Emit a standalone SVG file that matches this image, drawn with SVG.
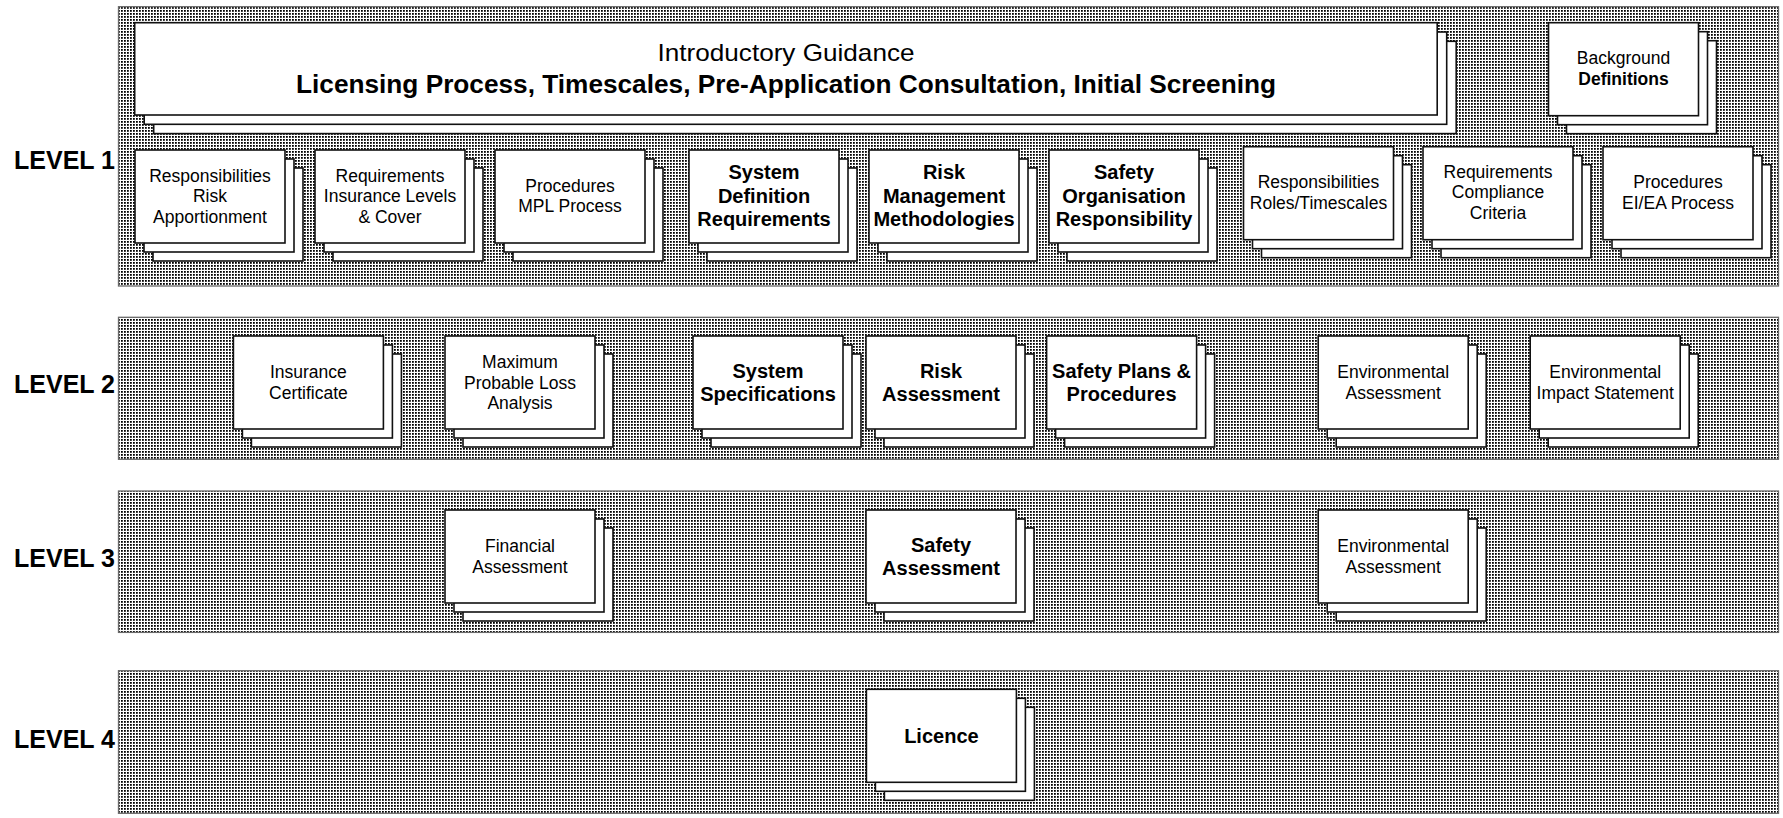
<svg xmlns="http://www.w3.org/2000/svg" width="1783" height="818" viewBox="0 0 1783 818">
<style>
.band{fill:url(#dots);stroke:#6a6a6a;stroke-width:1.3}
.bx{fill:#fff;stroke:#111;stroke-width:1.6}
text{font-family:"Liberation Sans",Arial,Helvetica,sans-serif;fill:#000;text-anchor:middle}
.r{font-size:17.5px}
.b{font-size:20px;font-weight:bold}
.bd{font-size:17.5px;font-weight:bold}
.lv{font-size:25px;font-weight:bold;text-anchor:end}
</style>
<defs>
<pattern id="dots" x="0" y="0" width="3" height="3" patternUnits="userSpaceOnUse">
<rect width="3" height="3" fill="#fff"/>
<rect x="1" y="1" width="1.8" height="1.8" fill="#000"/>
</pattern>
<g id="stk"><rect class="bx" x="18" y="18" width="150" height="93"/><rect class="bx" x="9" y="9" width="150" height="93"/><rect class="bx" x="0" y="0" width="150" height="93"/></g>
</defs>

<g id="bands">
<rect class="band" x="118.5" y="6.7" width="1660" height="279.3"/>
<rect class="band" x="118.5" y="317.3" width="1660" height="142"/>
<rect class="band" x="118.5" y="491" width="1660" height="141.4"/>
<rect class="band" x="118.5" y="670.7" width="1660" height="142.6"/>
</g>

<g id="labels">
<text class="lv" x="115" y="169">LEVEL 1</text>
<text class="lv" x="115" y="392.5">LEVEL 2</text>
<text class="lv" x="115" y="566.5">LEVEL 3</text>
<text class="lv" x="115" y="747.5">LEVEL 4</text>
</g>

<g id="intro">
<rect class="bx" x="153.7" y="41.3" width="1302.5" height="92.3"/>
<rect class="bx" x="144.2" y="32" width="1302.5" height="92.3"/>
<rect class="bx" x="134.7" y="22.7" width="1302.5" height="92.3"/>
<text x="786" y="60.7" style="font-size:24px" textLength="257" lengthAdjust="spacingAndGlyphs">Introductory Guidance</text>
<text x="786" y="92.7" style="font-size:25px;font-weight:bold" textLength="980" lengthAdjust="spacingAndGlyphs">Licensing Process, Timescales, Pre-Application Consultation, Initial Screening</text>
</g>

<g id="background" transform="translate(1548.5,22.7)"><use href="#stk"/>
<text class="r" x="75" y="41.5">Background</text><text class="bd" x="75" y="62.5">Definitions</text></g>

<g id="l1-resp-risk" transform="translate(135,150)"><use href="#stk"/>
<text class="r" x="75" y="31.7">Responsibilities</text><text class="r" x="75" y="52.3">Risk</text><text class="r" x="75" y="72.8">Apportionment</text></g>

<g id="l1-req-insurance" transform="translate(315,150)"><use href="#stk"/>
<text class="r" x="75" y="31.7">Requirements</text><text class="r" x="75" y="52.3">Insurance Levels</text><text class="r" x="75" y="72.8">&amp; Cover</text></g>

<g id="l1-proc-mpl" transform="translate(495,150)"><use href="#stk"/>
<text class="r" x="75" y="41.8">Procedures</text><text class="r" x="75" y="62.3">MPL Process</text></g>

<g id="l1-system-def" transform="translate(689,150)"><use href="#stk"/>
<text class="b" x="75" y="29.3">System</text><text class="b" x="75" y="52.5">Definition</text><text class="b" x="75" y="75.8">Requirements</text></g>

<g id="l1-risk-mgmt" transform="translate(869,150)"><use href="#stk"/>
<text class="b" x="75" y="29.3">Risk</text><text class="b" x="75" y="52.5">Management</text><text class="b" x="75" y="75.8">Methodologies</text></g>

<g id="l1-safety-org" transform="translate(1049,150)"><use href="#stk"/>
<text class="b" x="75" y="29.3">Safety</text><text class="b" x="75" y="52.5">Organisation</text><text class="b" x="75" y="75.8">Responsibility</text></g>

<g id="l1-resp-roles" transform="translate(1243.5,146.7)"><use href="#stk"/>
<text class="r" x="75" y="41.8">Responsibilities</text><text class="r" x="75" y="62.3">Roles/Timescales</text></g>

<g id="l1-req-compliance" transform="translate(1423,146.7)"><use href="#stk"/>
<text class="r" x="75" y="31.2">Requirements</text><text class="r" x="75" y="51.8">Compliance</text><text class="r" x="75" y="72.3">Criteria</text></g>

<g id="l1-proc-eiea" transform="translate(1603,146.7)"><use href="#stk"/>
<text class="r" x="75" y="41.8">Procedures</text><text class="r" x="75" y="62.3">EI/EA Process</text></g>

<g id="l2-insurance-cert" transform="translate(233.4,336)"><use href="#stk"/>
<text class="r" x="75" y="42">Insurance</text><text class="r" x="75" y="62.5">Certificate</text></g>

<g id="l2-mpl-analysis" transform="translate(445,336)"><use href="#stk"/>
<text class="r" x="75" y="32">Maximum</text><text class="r" x="75" y="52.5">Probable Loss</text><text class="r" x="75" y="73">Analysis</text></g>

<g id="l2-system-spec" transform="translate(693,336)"><use href="#stk"/>
<text class="b" x="75" y="42">System</text><text class="b" x="75" y="65">Specifications</text></g>

<g id="l2-risk-assess" transform="translate(866,336)"><use href="#stk"/>
<text class="b" x="75" y="42">Risk</text><text class="b" x="75" y="65">Assessment</text></g>

<g id="l2-safety-plans" transform="translate(1046.6,336)"><use href="#stk"/>
<text class="b" x="75" y="42">Safety Plans &amp;</text><text class="b" x="75" y="65">Procedures</text></g>

<g id="l2-env-assess" transform="translate(1318.2,336)"><use href="#stk"/>
<text class="r" x="75" y="42">Environmental</text><text class="r" x="75" y="62.5">Assessment</text></g>

<g id="l2-eis" transform="translate(1530.2,336)"><use href="#stk"/>
<text class="r" x="75" y="42">Environmental</text><text class="r" x="75" y="62.5">Impact Statement</text></g>

<g id="l3-financial" transform="translate(445,510)"><use href="#stk"/>
<text class="r" x="75" y="42">Financial</text><text class="r" x="75" y="62.5">Assessment</text></g>

<g id="l3-safety" transform="translate(866,510)"><use href="#stk"/>
<text class="b" x="75" y="42">Safety</text><text class="b" x="75" y="65">Assessment</text></g>

<g id="l3-env" transform="translate(1318.2,510)"><use href="#stk"/>
<text class="r" x="75" y="42">Environmental</text><text class="r" x="75" y="62.5">Assessment</text></g>

<g id="l4-licence" transform="translate(866.4,689.3)"><use href="#stk"/>
<text class="b" x="75" y="53.5">Licence</text></g>
</svg>
